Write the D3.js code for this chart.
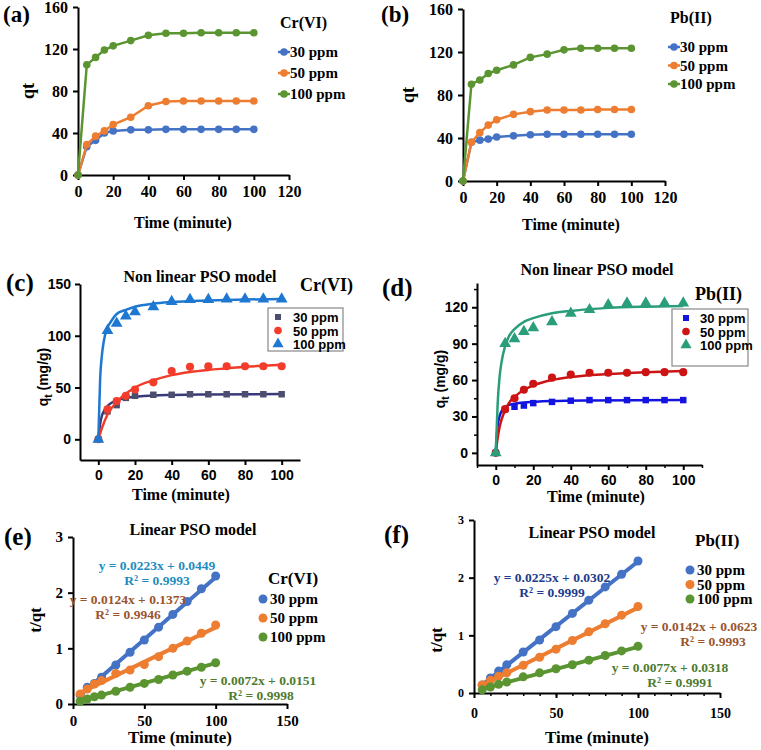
<!DOCTYPE html>
<html>
<head>
<meta charset="utf-8">
<script src="https://cdn.jsdelivr.net/npm/d3@7"></script>
<style>
  body { margin: 0; background: #fff; }
  svg { display: block; }
  .serif { font-family: 'Liberation Serif', 'Times New Roman', serif; font-weight: bold; }
  .sans { font-family: 'Liberation Sans', Arial, sans-serif; font-weight: bold; }
</style>
</head>
<body>
<script>
// kinetic data, contact time in minutes
const times = [0, 5, 10, 15, 20, 30, 40, 50, 60, 70, 80, 90, 100]
const linTimes = [5, 10, 15, 20, 30, 40, 50, 60, 70, 80, 90, 100]
const seriesNames = ['30 ppm', '50 ppm', '100 ppm']

// (a) Cr(VI) qt
const crQt30 = [0, 27, 33, 40, 42, 43, 43, 43.5, 43.5, 43.5, 43.5, 43.5, 43.5]
const crQt50 = [0, 29, 37, 42, 48, 55, 66, 70, 70.5, 70.5, 70.5, 70.5, 70.5]
const crQt100 = [0, 105, 112, 119, 123, 128, 133, 135, 135, 135.5, 135.5, 135.5, 135.5]

// (b) Pb(II) qt
const pbQt30 = [0, 36, 38, 39, 41, 42, 43, 43.5, 43.5, 43.5, 43.5, 43.5, 43.5]
const pbQt50 = [0, 36, 45, 52, 57, 62, 64.5, 66, 66, 66, 66.5, 66.5, 66.5]
const pbQt100 = [0, 90, 94, 100, 103, 108, 115, 118, 122, 123.5, 123.5, 123.5, 123.5]

// (c) non linear PSO fit curves for Cr(VI) [t, q]
const crFit30 = [[0, 0], [1, 15], [2, 23], [3, 27], [5, 32], [7, 35], [10, 37.5], [15, 40], [20, 41], [30, 42.3], [40, 42.8], [60, 43.3], [100, 43.7]]
const crFit50 = [[0, 0], [2, 11], [5, 24], [10, 36], [15, 44], [20, 50], [30, 57], [40, 62], [50, 65], [60, 67], [70, 68.5], [80, 70], [90, 71], [100, 72]]
const crFit100 = [[0, 0], [1, 59], [2, 82], [3, 95], [5, 108], [7, 114], [10, 121], [15, 125], [20, 128], [30, 131], [40, 132.5], [60, 134], [80, 135], [100, 135.5]]

// (d) non linear PSO fit curves for Pb(II)
const pbFit30 = [[0, 0], [1, 22], [2, 30], [3, 34], [5, 37.5], [7, 39.5], [10, 40.5], [15, 41.5], [20, 42], [30, 42.7], [50, 43.2], [100, 43.6]]
const pbFit50 = [[0, 0], [1, 12], [2, 21], [3, 27], [5, 35], [7, 41], [10, 46], [15, 52], [20, 55.5], [30, 60], [40, 62.5], [60, 65], [80, 66.5], [100, 67.5]]
const pbFit100 = [[0, 0], [1, 40], [2, 62], [3, 74], [5, 88], [7, 96], [10, 102], [15, 108], [20, 111], [30, 115], [40, 117], [60, 119.5], [80, 120.5], [100, 121]]

// (e) linear PSO t/qt for Cr(VI)
const crTq30 = [0.16, 0.3, 0.37, 0.48, 0.7, 0.93, 1.15, 1.38, 1.61, 1.84, 2.07, 2.3]
const crTq50 = [0.18, 0.27, 0.36, 0.42, 0.55, 0.61, 0.71, 0.85, 1.0, 1.13, 1.27, 1.42]
const crTq100 = [0.05, 0.09, 0.13, 0.16, 0.23, 0.3, 0.37, 0.44, 0.52, 0.59, 0.66, 0.74]
const crTrend = [[[5, 0.156], [100, 2.275]], [[5, 0.199], [100, 1.377]], [[5, 0.051], [100, 0.735]]]
const crEq = ['y = 0.0223x + 0.0449', 'y = 0.0124x + 0.1373', 'y = 0.0072x + 0.0151']
const crR2 = ['R² = 0.9993', 'R² = 0.9946', 'R² = 0.9998']

// (f) linear PSO t/qt for Pb(II)
const pbTq30 = [0.14, 0.26, 0.38, 0.49, 0.71, 0.92, 1.15, 1.38, 1.61, 1.84, 2.06, 2.29]
const pbTq50 = [0.14, 0.22, 0.29, 0.35, 0.48, 0.62, 0.76, 0.91, 1.06, 1.2, 1.35, 1.5]
const pbTq100 = [0.055, 0.105, 0.15, 0.19, 0.28, 0.35, 0.42, 0.49, 0.57, 0.65, 0.73, 0.81]
const pbTrend = [[[5, 0.143], [100, 2.28]], [[5, 0.133], [100, 1.48]], [[5, 0.07], [100, 0.80]]]
const pbEq = ['y = 0.0225x + 0.0302', 'y = 0.0142x + 0.0623', 'y = 0.0077x + 0.0318']
const pbR2 = ['R² = 0.9999', 'R² = 0.9993', 'R² = 0.9991']

const excelColors = ['#4472C4', '#ED7D31', '#5A9531']

const svg = d3.select('body').append('svg').attr('width', 761).attr('height', 750)

function txt(x, y, s, size, cls, anchor = 'start', fill = '#000') {
  return svg.append('text').attr('x', x).attr('y', y).attr('class', cls)
    .style('font-size', size + 'px').attr('text-anchor', anchor).attr('fill', fill).text(s)
}

function yLabel(x, y, s, size, cls) {
  return svg.append('text').attr('class', cls).style('font-size', size + 'px')
    .attr('text-anchor', 'middle')
    .attr('transform', `translate(${x},${y}) rotate(-90)`).text(s)
}

function drawAxes(x, y, xTicks, yTicks, opts) {
  const fmt = d3.format('d')
  const gx = svg.append('g').attr('transform', `translate(0,${y.range()[0]})`)
    .call(d3.axisBottom(x).tickValues(xTicks).tickFormat(fmt).tickSize(opts.tick).tickSizeOuter(0).tickPadding(opts.xPad || 4))
  const gy = svg.append('g').attr('transform', `translate(${x.range()[0]},0)`)
    .call(d3.axisLeft(y).tickValues(yTicks).tickFormat(fmt).tickSize(opts.tick).tickSizeOuter(0).tickPadding(opts.yPad || 4))
  gx.selectAll('text').style('font-size', opts.size + 'px')
  gy.selectAll('text').style('font-size', (opts.ySize || opts.size) + 'px')
  for (const g of [gx, gy]) {
    g.select('.domain').attr('stroke', '#000').attr('stroke-width', opts.width || 2)
    g.selectAll('.tick line').attr('stroke', '#000').attr('stroke-width', opts.width || 2)
    g.selectAll('text').attr('class', opts.font).attr('font-family', null).attr('fill', '#000')
  }
  if (opts.minorX) {
    svg.append('g').attr('transform', `translate(0,${y.range()[0]})`)
      .call(d3.axisBottom(x).tickValues(opts.minorX).tickSize(3).tickFormat(''))
      .call((g) => g.select('.domain').remove())
      .selectAll('line').attr('stroke-width', 1.5)
  }
  if (opts.minorY) {
    svg.append('g').attr('transform', `translate(${x.range()[0]},0)`)
      .call(d3.axisLeft(y).tickValues(opts.minorY).tickSize(3).tickFormat(''))
      .call((g) => g.select('.domain').remove())
      .selectAll('line').attr('stroke-width', 1.5)
  }
  return [gx, gy]
}

// ---------- (a) and (b): Excel line charts ----------
function excelPanel(p) {
  const x = d3.scaleLinear().domain([0, 120]).range([p.x0, p.x1])
  const y = d3.scaleLinear().domain([0, 160]).range([p.y0, p.y1])
  drawAxes(x, y, d3.range(0, 121, 20), d3.range(0, 161, 40), { tick: 5, font: 'serif', size: 16, width: 2, xPad: 6, yPad: 5 })
  const line = d3.line().x((d, i) => x(times[i])).y((d) => y(d))
  p.series.forEach((s, k) => {
    svg.append('path').datum(s).attr('d', line).attr('fill', 'none')
      .attr('stroke', excelColors[k]).attr('stroke-width', 2.5)
    svg.append('g').selectAll('circle').data(s).join('circle')
      .attr('cx', (d, i) => x(times[i])).attr('cy', (d) => y(d)).attr('r', 3.8)
      .attr('fill', excelColors[k])
  })
  // legend
  txt(p.lx + 2, p.ly - 24, p.metal, 16, 'serif')
  seriesNames.forEach((n, k) => {
    const yy = p.ly + k * p.lstep
    svg.append('line').attr('x1', p.lx).attr('x2', p.lx + 12).attr('y1', yy).attr('y2', yy)
      .attr('stroke', excelColors[k]).attr('stroke-width', 2.5)
    svg.append('circle').attr('cx', p.lx + 6).attr('cy', yy).attr('r', 3.8).attr('fill', excelColors[k])
    txt(p.lx + 12, yy + 5, n, 15, 'serif')
  })
  yLabel(p.x0 - p.qtOff, (p.y0 + p.y1) / 2, 'qt', 18, 'serif')
  txt(p.timeX, p.timeY, 'Time (minute)', 16, 'serif', 'middle')
  txt(p.tagX, 22, p.tag, 23, 'serif')
}

excelPanel({ x0: 78, x1: 289, y0: 175, y1: 7, series: [crQt30, crQt50, crQt100], metal: 'Cr(VI)', lx: 278, ly: 52, lstep: 21, tag: '(a)', tagX: 3, qtOff: 44, timeX: 183, timeY: 228 })
excelPanel({ x0: 463, x1: 665, y0: 181, y1: 9, series: [pbQt30, pbQt50, pbQt100], metal: 'Pb(II)', lx: 668, ly: 47, lstep: 18.5, tag: '(b)', tagX: 381, qtOff: 49, timeX: 571, timeY: 230 })

// ---------- (c) and (d): Origin non linear fits ----------
function originPanel(p) {
  const x = d3.scaleLinear().domain([-10, 110]).range([p.x0, p.x1])
  const y = d3.scaleLinear().domain(p.yDom).range([p.y0, p.y1])
  drawAxes(x, y, d3.range(0, 101, 20), p.yTicks, { tick: 5, font: 'sans', size: 14, width: 2, xPad: 5, yPad: 4, minorX: p.minorX, minorY: p.minorY })
  const curve = d3.line().x((d) => x(d[0])).y((d) => y(d[1])).curve(d3.curveMonotoneX)
  const shapes = [d3.symbolSquare, d3.symbolCircle, d3.symbolTriangle]
  const sizes = [42, 52, 60]
  p.series.forEach((s, k) => {
    svg.append('path').datum(p.fits[k]).attr('d', curve).attr('fill', 'none')
      .attr('stroke', p.lineColors[k]).attr('stroke-width', 2.5)
    svg.append('g').selectAll('path').data(s).join('path')
      .attr('d', d3.symbol(shapes[k], sizes[k]))
      .attr('transform', (d, i) => `translate(${x(times[i])},${y(d)})`)
      .attr('fill', p.colors[k])
  })
  svg.append('rect').attr('x', p.box[0]).attr('y', p.box[1]).attr('width', p.box[2]).attr('height', p.box[3])
    .attr('fill', '#fff').attr('fill-opacity', 0.85).attr('stroke', '#888').attr('stroke-width', 1.2)
  seriesNames.forEach((n, k) => {
    const yy = p.box[1] + p.lfirst + k * p.lstep
    svg.append('path').attr('d', d3.symbol(shapes[k], sizes[k] - 6))
      .attr('transform', `translate(${p.box[0] + p.lmark},${yy})`).attr('fill', p.colors[k])
    txt(p.box[0] + p.ltext, yy + 5, n, 13, 'sans')
  })
  txt(p.titleX, p.titleY, 'Non linear PSO model', 16, 'serif', 'middle')
  txt(p.metalX, p.metalY, p.metal, 18, 'serif')
  const yl = svg.append('text').attr('class', 'sans').style('font-size', '14px').attr('text-anchor', 'middle')
    .attr('transform', `translate(${p.x0 - 32},${(p.y0 + p.y1) / 2 + 5}) rotate(-90)`)
  yl.append('tspan').text('q')
  yl.append('tspan').attr('dy', 4).style('font-size', '10px').text('t')
  yl.append('tspan').attr('dy', -4).text(' (mg/g)')
  txt(p.timeX, p.timeY, 'Time (minute)', 16, 'serif', 'middle')
  txt(p.tagX, p.tagY, p.tag, 25, 'serif')
}

originPanel({
  x0: 80, x1: 300, y0: 460, y1: 284, yDom: [-20, 150], yTicks: [0, 50, 100, 150],
  series: [crQt30, crQt50, crQt100], fits: [crFit30, crFit50, crFit100],
  colors: ['#4D4D70', '#F43C2C', '#1E78D2'], lineColors: ['#3A3A7A', '#F03C28', '#1E78D2'],
  box: [268, 308, 75, 43], lfirst: 9, lstep: 13.5, lmark: 10, ltext: 25,
  titleX: 200, titleY: 282, metal: 'Cr(VI)', metalX: 300, metalY: 291,
  timeX: 181, timeY: 500, tag: '(c)', tagX: 6, tagY: 291
})

originPanel({
  x0: 477, x1: 702, y0: 465, y1: 283, yDom: [-10, 140], yTicks: [0, 30, 60, 90, 120],
  minorX: d3.range(-10, 111, 20), minorY: d3.range(15, 136, 30),
  series: [pbQt30, pbQt50, pbQt100], fits: [pbFit30, pbFit50, pbFit100],
  colors: ['#1414E0', '#CC1414', '#2A9D7A'], lineColors: ['#1414E0', '#CC1414', '#2A9D7A'],
  box: [672, 309, 76, 57], lfirst: 9, lstep: 13.5, lmark: 14, ltext: 28,
  titleX: 597, titleY: 275, metal: 'Pb(II)', metalX: 695, metalY: 300,
  timeX: 596, timeY: 502, tag: '(d)', tagX: 382, tagY: 296
})

// ---------- (e) and (f): linear PSO ----------
function linearPanel(p) {
  const x = d3.scaleLinear().domain([0, 150]).range([p.x0, p.x1])
  const y = d3.scaleLinear().domain([0, 3]).range([p.y0, p.y1])
  drawAxes(x, y, [0, 50, 100, 150], [0, 1, 2, 3], { tick: 5, font: 'serif', size: p.tickSize, ySize: p.yTickSize, width: 2, xPad: p.xPad, yPad: 5, minorX: p.minorX })
  const line = d3.line().x((d) => x(d[0])).y((d) => y(d[1]))
  p.series.forEach((s, k) => {
    svg.append('path').datum(p.trend[k]).attr('d', line).attr('fill', 'none')
      .attr('stroke', excelColors[k]).attr('stroke-width', 4)
    svg.append('g').selectAll('circle').data(s).join('circle')
      .attr('cx', (d, i) => x(linTimes[i])).attr('cy', (d) => y(d)).attr('r', 4.5)
      .attr('fill', excelColors[k])
  })
  p.eqPos.forEach((e, k) => {
    txt(e[0], e[1], p.eq[k], 13.5, 'serif', 'middle', p.eqColors[k])
    txt(e[0] + (e[2] || 0), e[1] + 15, p.r2[k], 13.5, 'serif', 'middle', p.eqColors[k])
  })
  txt(p.metalX, p.metalY, p.metal, 17, 'serif')
  seriesNames.forEach((n, k) => {
    const yy = p.ly + k * p.lstep
    svg.append('circle').attr('cx', p.lx).attr('cy', yy).attr('r', 4.5).attr('fill', excelColors[k])
    txt(p.lx + 7, yy + 5, n, 15, 'serif')
  })
  txt(p.titleX, p.titleY, 'Linear PSO model', 16, 'serif', 'middle')
  yLabel(p.x0 - 32, p.labelY, 't/qt', 17, 'serif')
  txt(p.timeX, 743, 'Time (minute)', 17, 'serif', 'middle')
  txt(p.tagX, p.tagY, p.tag, 25, 'serif')
}

linearPanel({
  x0: 73, x1: 287, y0: 704, y1: 537, tickSize: 15, yTickSize: 15, xPad: 6,
  series: [crTq30, crTq50, crTq100], trend: crTrend, eq: crEq, r2: crR2,
  eqColors: ['#1E8CC0', '#99552E', '#4E7A2E'], eqPos: [[157, 570, 0], [128, 604, 0], [258, 685, 3]],
  metal: 'Cr(VI)', metalX: 268, metalY: 584, lx: 263, ly: 599, lstep: 19,
  titleX: 193, titleY: 535, labelY: 620, timeX: 180, tag: '(e)', tagX: 4, tagY: 545
})

linearPanel({
  x0: 474, x1: 720, y0: 693, y1: 520, tickSize: 14, yTickSize: 12, xPad: 10, minorX: d3.range(10, 150, 10),
  series: [pbTq30, pbTq50, pbTq100], trend: pbTrend, eq: pbEq, r2: pbR2,
  eqColors: ['#203A8C', '#99552E', '#4E7A2E'], eqPos: [[552, 582, 0], [699, 631, 14], [670, 672, 10]],
  metal: 'Pb(II)', metalX: 695, metalY: 546, lx: 690, ly: 570, lstep: 14.5,
  titleX: 592, titleY: 538, labelY: 640, timeX: 597, tag: '(f)', tagX: 384, tagY: 543
})
</script>
</body>
</html>
